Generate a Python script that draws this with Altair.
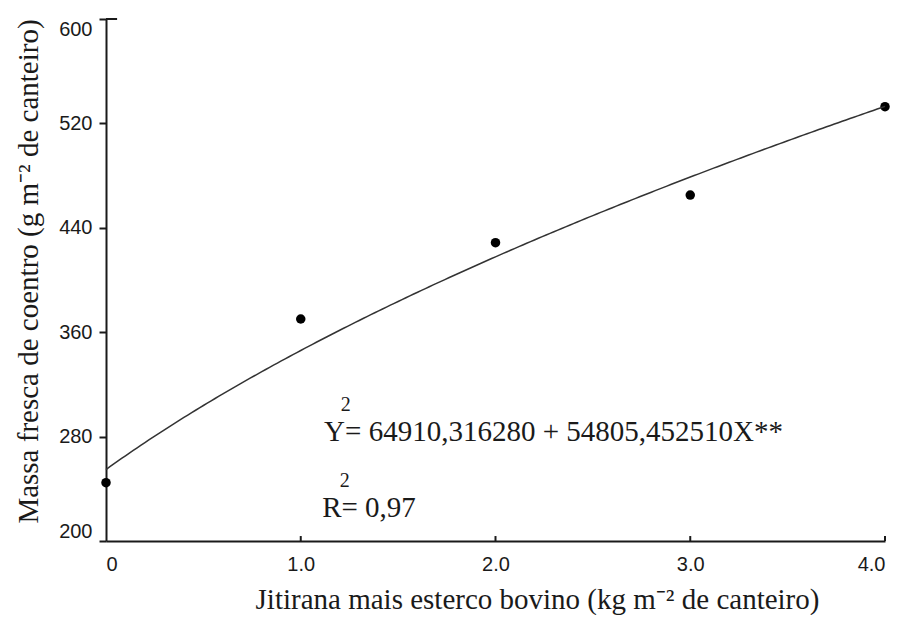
import altair as alt
import pandas as pd

# Data
dose = [0, 1, 2, 3, 4]
massa = [244.7, 370.1, 428.6, 465.1, 532.8]
x_ticks = [0, 1, 2, 3, 4]
x_inner_ticks = [1, 2, 3, 4]
y_ticks = [200, 280, 360, 440, 520, 600]
coef_a = 64910.316280
coef_b = 54805.452510
eq_text = "Y= 64910,316280 + 54805,452510X**"
r2_text = "R= 0,97"
sup_text = "2"
x_title = "Jitirana mais esterco bovino (kg m⁻² de canteiro)"
y_title = "Massa fresca de coentro (g m⁻² de canteiro)"

SERIF = "Liberation Serif"
SANS = "Liberation Sans"
INK = "#1a1a1a"

pts = pd.DataFrame({"dose": dose, "massa": massa})
tick_df = pd.DataFrame({"dose": x_inner_ticks})

xscale = alt.Scale(domain=[0, 4], nice=False, zero=False)
yscale = alt.Scale(domain=[200, 600], nice=False, zero=False)

x_axis = alt.Axis(
    values=x_ticks,
    labelExpr="datum.value == 0 ? '0' : format(datum.value, '.1f')",
    tickSize=0,
    labelPadding=13,
    grid=False,
    title=x_title,
    titleFontSize=29,
    titleX=431,
    titleY=67,
    titleAlign="center",
    titleBaseline="alphabetic",
)
y_axis = alt.Axis(
    values=y_ticks,
    tickSize=7,
    labelPadding=7,
    labelFlush=True,
    grid=False,
    title=y_title,
    titleFontSize=29,
    titleX=-69,
    titleY=252,
    titleAngle=-90,
    titleAlign="center",
    titleBaseline="alphabetic",
)


def xf(field="dose"):
    return alt.X(f"{field}:Q", scale=xscale, axis=x_axis)


def yf(field="massa"):
    return alt.Y(f"{field}:Q", scale=yscale, axis=y_axis)


def xd(v):
    return alt.XDatum(v, type="quantitative", scale=xscale, axis=x_axis)


def yd(v):
    return alt.YDatum(v, type="quantitative", scale=yscale, axis=y_axis)


points = alt.Chart(pts).mark_circle(size=90, color="black", opacity=1).encode(
    x=xf(), y=yf()
)

curve = (
    alt.Chart(alt.sequence(0, 4.02, 0.02, as_="dose"))
    .transform_calculate(massa=f"sqrt({coef_a} + {coef_b} * datum.dose)")
    .mark_line(color="#333333", strokeWidth=1.5)
    .encode(x=xf(), y=yf())
)

inner_ticks = (
    alt.Chart(tick_df)
    .mark_rule(color=INK, strokeWidth=2)
    .encode(x=xf(), y=yd(200), y2=alt.Y2Datum(203.8))
)

top_cap = (
    alt.Chart(pd.DataFrame({"k": [0]}))
    .mark_rule(color=INK, strokeWidth=2)
    .encode(x=xd(0), x2=alt.X2Datum(0.057), y=yd(600))
)


def label(text, xv, yv, size):
    return (
        alt.Chart(pd.DataFrame({"k": [0]}))
        .mark_text(
            align="left", baseline="alphabetic", font=SERIF, fontSize=size, color=INK
        )
        .encode(x=xd(xv), y=yd(yv), text=alt.value(text))
    )


eq = label(eq_text, 1.12, 276.6, 29)
eq_sup = label(sup_text, 1.205, 299.6, 20)
r2 = label(r2_text, 1.11, 218.4, 29)
r2_sup = label(sup_text, 1.20, 241.4, 20)

chart = (
    alt.layer(points, curve, inner_ticks, top_cap, eq, eq_sup, r2, r2_sup)
    .properties(
        width=779,
        height=522,
        autosize=alt.AutoSizeParams(type="none"),
        padding={"left": 98, "top": 11, "right": 14, "bottom": 74},
        background="white",
    )
    .configure_view(stroke=None)
    .configure_axis(
        domainColor=INK,
        domainWidth=2,
        tickColor=INK,
        tickWidth=2,
        labelFont=SANS,
        labelFontSize=20,
        labelColor=INK,
        titleFont=SERIF,
        titleFontWeight="normal",
        titleColor=INK,
    )
)

chart.save("out.html", embed_options={"renderer": "svg", "actions": False})
